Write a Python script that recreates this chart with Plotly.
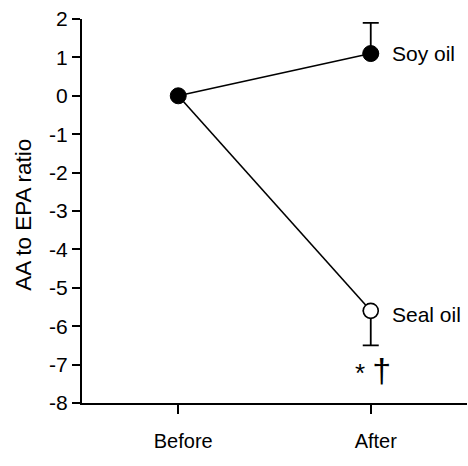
import plotly.graph_objects as go

categories = ["Before", "After"]
soy_values = [0, 1.1]
seal_values = [0, -5.6]
soy_err_plus = 0.8
seal_err_minus = 0.9
y_ticks = [2, 1, 0, -1, -2, -3, -4, -5, -6, -7, -8]
xpos = [0, 1]

FONT = "Liberation Sans, Arial, sans-serif"

fig = go.Figure()
# connecting lines
for vals in (seal_values, soy_values):
    fig.add_trace(go.Scatter(x=xpos, y=vals, mode="lines",
                             line=dict(color="black", width=1.6),
                             showlegend=False, hoverinfo="skip"))
# error bars (one-sided) on the After points
fig.add_trace(go.Scatter(
    x=[xpos[1]], y=[soy_values[1]], mode="markers", marker=dict(size=1, opacity=0),
    error_y=dict(type="data", symmetric=False, array=[soy_err_plus], arrayminus=[0],
                 color="black", thickness=1.8, width=8),
    showlegend=False, hoverinfo="skip"))
fig.add_trace(go.Scatter(
    x=[xpos[1]], y=[seal_values[1]], mode="markers", marker=dict(size=1, opacity=0),
    error_y=dict(type="data", symmetric=False, array=[0], arrayminus=[seal_err_minus],
                 color="black", thickness=1.8, width=8),
    showlegend=False, hoverinfo="skip"))
# markers
fig.add_trace(go.Scatter(x=[xpos[1]], y=[seal_values[1]], mode="markers",
                         marker=dict(size=15, color="white", line=dict(color="black", width=1.6)),
                         showlegend=False))
fig.add_trace(go.Scatter(x=xpos, y=soy_values, mode="markers",
                         marker=dict(size=16, color="black", line=dict(color="black", width=1)),
                         showlegend=False))

fig.add_annotation(x=1, y=soy_values[1], text="Soy oil", showarrow=False,
                   xanchor="left", yanchor="middle", xshift=19, yshift=0,
                   font=dict(family=FONT, size=21, color="black"))
fig.add_annotation(x=1, y=seal_values[1], text="Seal oil", showarrow=False,
                   xanchor="left", yanchor="middle", xshift=19, yshift=-4,
                   font=dict(family=FONT, size=21, color="black"))
fig.add_annotation(x=1, y=-7.15, text="* <span style='font-size:34px'>†</span>", showarrow=False,
                   xanchor="center", yanchor="middle", xshift=2,
                   font=dict(family=FONT, size=26, color="black"))
fig.add_annotation(xref="paper", yref="paper", x=0, y=0.49, xshift=-58,
                   text="AA to EPA ratio", textangle=-90, showarrow=False,
                   xanchor="center", yanchor="middle",
                   font=dict(family=FONT, size=22.5, color="black"))

fig.update_layout(
    width=468, height=466,
    margin=dict(l=82, r=1, t=19, b=63),
    plot_bgcolor="white", paper_bgcolor="white",
    font=dict(family=FONT, color="black"),
    xaxis=dict(range=[-0.5, 1.5], tickmode="array", tickvals=xpos, ticktext=categories,
               automargin=False,
               showgrid=False, zeroline=False, showline=True, linecolor="black", linewidth=2,
               ticks="outside", ticklen=9, tickwidth=2, tickcolor="black",
               ticklabelstandoff=10, ticklabelshift=5,
               tickfont=dict(family=FONT, size=20, color="black")),
    yaxis=dict(range=[-8, 2], tickmode="array", tickvals=y_ticks,
               ticktext=[str(v) for v in y_ticks], automargin=False,
               showgrid=False, zeroline=False, showline=True, linecolor="black", linewidth=2,
               ticks="outside", ticklen=8, tickwidth=2, tickcolor="black",
               tickfont=dict(family=FONT, size=21, color="black")),
)

fig.write_html("out.html", config={"displayModeBar": False},
               post_script="document.body.style.margin='0';document.body.style.overflow='hidden';")
